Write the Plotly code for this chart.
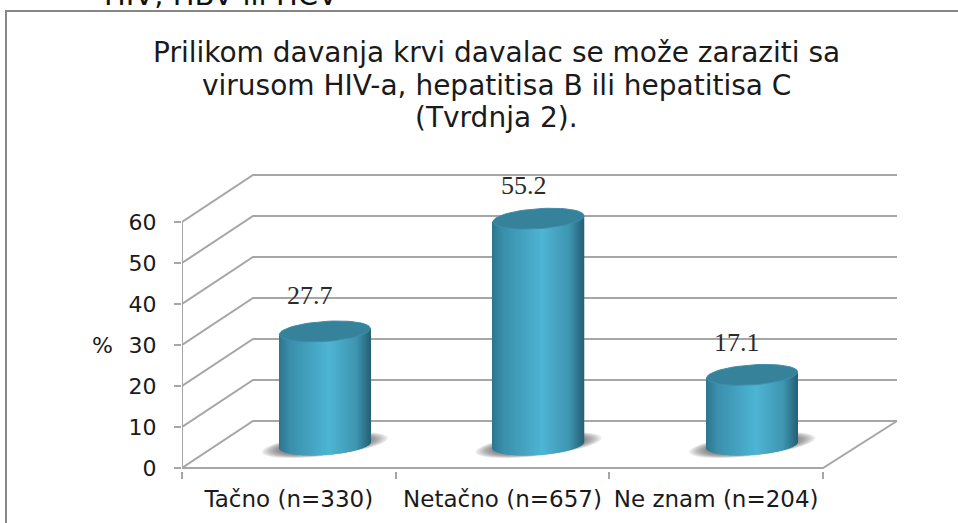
import numpy as np
import plotly.graph_objects as go

categories = ["Tačno (n=330)", "Netačno (n=657)", "Ne znam (n=204)"]
values = [27.7, 55.2, 17.1]
y_ticks = [0, 10, 20, 30, 40, 50, 60]
title_lines = ["Prilikom davanja krvi davalac se može zaraziti sa",
               "virusom HIV-a, hepatitisa B ili hepatitisa C",
               "(Tvrdnja 2)."]
label_yshift = [36, 33, 32]

W, H = 958, 523
PX_X = 213.67   # pixels per category
PX_Y = 4.1      # pixels per percent
X0, Y0 = 182, 468
DX, DY = 71 / PX_X, 47 / PX_Y        # depth of the 3D box
XEND = 715 / PX_X
XMAX = (897 + 3 - X0) / PX_X
YTOP = (Y0 - 168) / PX_Y
YBOT = -3 / PX_Y
BASE = (Y0 - 445) / PX_Y              # cylinder floor level
CENTER = np.arange(3) + 0.5 + 36 / PX_X
HALF_W = 45.5 / PX_X
ELL = 10 / PX_Y
TILT = 3.0 / PX_Y
SANS = "DejaVu Sans"
GRID = "#a6a6a6"


def poly(xs, ys, close=False):
    p = " ".join(("M" if i == 0 else "L") + f" {x:.5f} {y:.5f}" for i, (x, y) in enumerate(zip(xs, ys)))
    return p + (" Z" if close else "")


shapes = []
# walls and floor
for v in y_ticks:
    shapes.append(dict(type="path", xref="x", yref="y", layer="below",
                       path=poly([0, DX, XEND], [v, v + DY, v + DY]), line=dict(color=GRID, width=2)))
shapes.append(dict(type="path", xref="x", yref="y", layer="below",
                   path=poly([0, 3, XEND], [0, 0, DY]), line=dict(color=GRID, width=2)))
shapes.append(dict(type="path", xref="x", yref="y", layer="below",
                   path=poly([0, 0], [0, 60]), line=dict(color=GRID, width=2)))

# soft shadows
t = np.linspace(0, 2 * np.pi, 60)
for scale in np.linspace(1.0, 0.72, 9):
    for c in CENTER:
        xs = c + scale * 63 / PX_X * np.cos(t)
        ys = BASE + scale * (11 / PX_Y * np.sin(t) + 7 / PX_Y * np.cos(t))
        shapes.append(dict(type="path", xref="x", yref="y", layer="below", path=poly(xs, ys, True),
                           fillcolor="rgba(70,70,70,0.10)", line=dict(width=0)))

# frame
shapes.append(dict(type="path", xref="paper", yref="paper",
                   path=f"M {6/W} 0 L {6/W} {1-11/H} L 1 {1-11/H}",
                   line=dict(color="#868686", width=2)))

fig = go.Figure()

# cylinder bodies: shaded vertical strips
stops_u = [0.0, 0.12, 0.55, 0.85, 1.0]
stops_c = np.array([[44, 118, 142], [58, 143, 172], [78, 181, 212], [62, 150, 178], [38, 98, 118]])
N = 91
w = 2 * HALF_W / N
for k in range(N):
    u = (k + 0.5) / N
    col = [int(np.interp(u, stops_u, stops_c[:, i])) for i in range(3)]
    s = 2 * u - 1
    offs = s * HALF_W
    low = BASE - ELL * np.sqrt(1 - s * s) + s * TILT
    top = [v + BASE + s * TILT - low for v in values]
    fig.add_trace(go.Bar(x=CENTER + offs, y=top, base=[low] * 3, width=w * 1.5,
                         marker=dict(color=f"rgb({col[0]},{col[1]},{col[2]})", line=dict(width=0)),
                         hoverinfo="skip", showlegend=False))

# cylinder tops
for c, v in zip(CENTER, values):
    xs = c + HALF_W * np.cos(t)
    ys = v + BASE + ELL * np.sin(t) + TILT * np.cos(t)
    fig.add_trace(go.Scatter(x=xs, y=ys, mode="lines", fill="toself",
                             line=dict(color="#3f8ea9", width=1), fillcolor="#36829b",
                             hoverinfo="skip", showlegend=False))

annotations = [
    dict(x=c - 15 / PX_X, y=v + BASE, yshift=s, text=str(v), showarrow=False,
         xref="x", yref="y", yanchor="middle",
         font=dict(family="Liberation Serif", size=26, color="#2b2b2b"))
    for c, v, s in zip(CENTER, values, label_yshift)
]
annotations.append(dict(x=0, y=30, xshift=-80, text="%", showarrow=False, xref="x", yref="y",
                        font=dict(family=SANS, size=22, color="#1a1a1a")))
annotations.append(dict(x=221 / W, xanchor="center", y=1 + 5 / H, text="HIV, HBV ili HCV", showarrow=False,
                        xref="paper", yref="paper", yanchor="middle",
                        font=dict(family=SANS, size=29, color="#111111")))
for line, yp in zip(title_lines, [53, 85, 117]):
    annotations.append(dict(x=497 / W, xanchor="center", y=1 - yp / H, text=line, showarrow=False,
                            xref="paper", yref="paper", yanchor="middle",
                            font=dict(family=SANS, size=28, color="#1a1a1a")))

fig.update_layout(
    width=W, height=H, margin=dict(l=0, r=0, t=0, b=0),
    paper_bgcolor="white", plot_bgcolor="rgba(0,0,0,0)",
    barmode="overlay", showlegend=False, annotations=annotations, shapes=shapes,
    xaxis=dict(domain=[X0 / W, (897 + 3) / W], range=[0, XMAX], showgrid=False, zeroline=False, showline=False,
               automargin=False,
               tickmode="array", tickvals=[0.5, 1.5, 2.5], ticktext=categories, ticks="",
               tickfont=dict(family=SANS, size=23, color="#1a1a1a"), ticklabelstandoff=12,
               minor=dict(tickmode="array", tickvals=[0, 1, 2, 3], ticks="outside", ticklen=7,
                          tickcolor=GRID, tickwidth=2, showgrid=False)),
    yaxis=dict(domain=[1 - (Y0 + 3) / H, 1 - 168 / H], range=[YBOT, YTOP], showgrid=False, zeroline=False, showline=False,
               automargin=False,
               tickmode="array", tickvals=y_ticks, ticks="outside", ticklen=7, tickcolor=GRID, tickwidth=2,
               tickfont=dict(family=SANS, size=22, color="#1a1a1a"), ticklabelstandoff=13),
)

fig.write_html("out.html", config={"responsive": False, "displayModeBar": False},
               default_width=f"{W}px", default_height=f"{H}px",
               post_script="document.body.style.margin='0';")
